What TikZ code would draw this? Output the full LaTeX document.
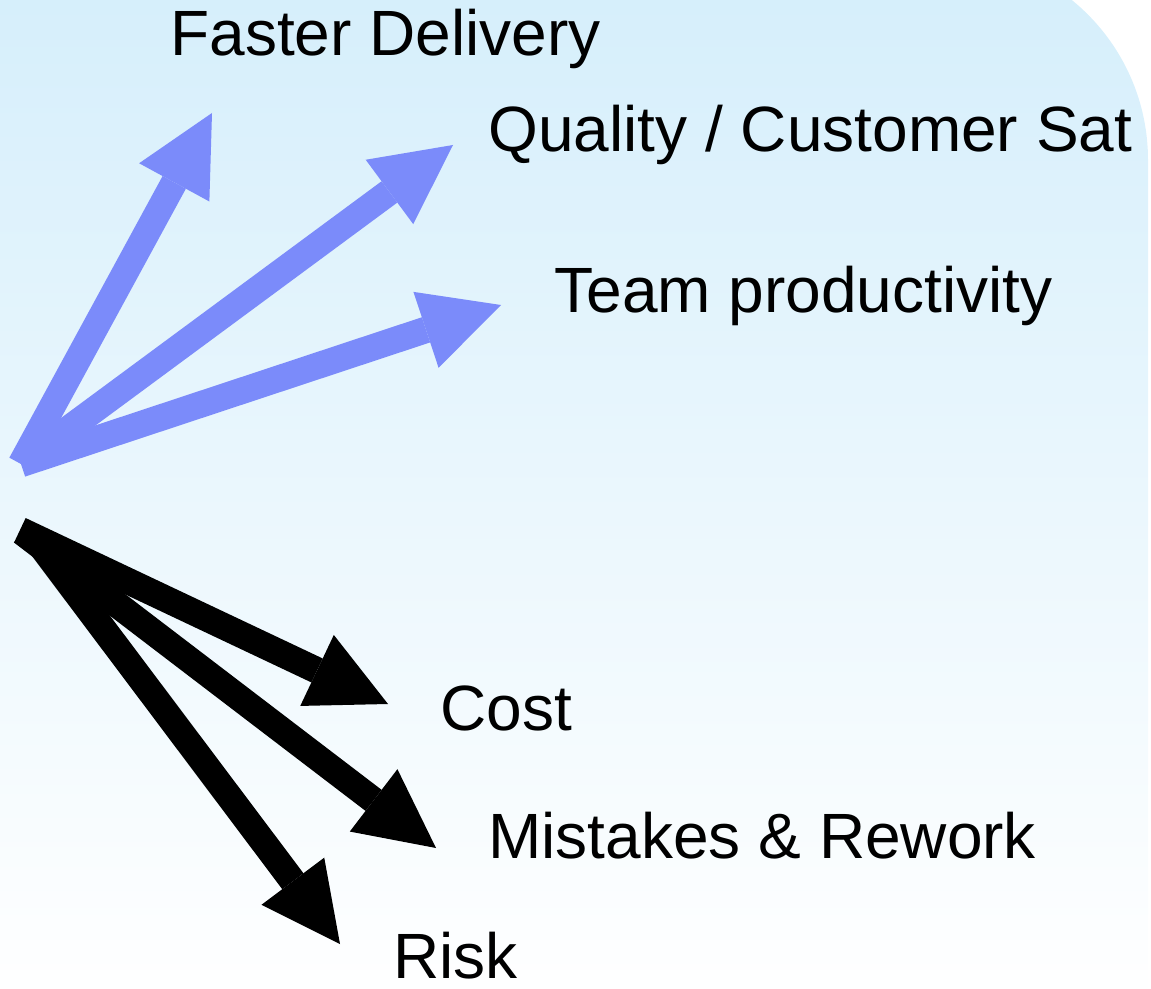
\documentclass[tikz,border=0pt]{standalone}
\usepackage{fontspec}
\setmainfont{Liberation Sans}
\usetikzlibrary{arrows.meta}
\definecolor{bgtop}{RGB}{212,238,251}
\definecolor{arrblue}{RGB}{123,139,250}
\begin{document}
\begin{tikzpicture}[x=0.5pt,y=-0.5pt,
  lbl/.style={inner sep=0pt, anchor=base west, font=\fontsize{32pt}{38pt}\selectfont},
  uparrow/.style={draw=arrblue, line width=13.25pt, -{Triangle[length=39.5pt,width=40pt,line width=0pt]}},
  downarrow/.style={draw=black, line width=13.25pt, -{Triangle[length=39.25pt,width=39.25pt,line width=0pt]}}]
\useasboundingbox (0,0) rectangle (1151,989);
\shade[top color=bgtop, bottom color=white] (-10,1000) -- (-10,-46) -- (942,-46)
  arc[start angle=-90,end angle=0,radius=206] -- (1148,1000) -- cycle;

% labels
\node[lbl] (fd) at (170,56) {Faster Delivery};
\node[lbl] (qc) at (488,152) {Quality / Customer Sat};
\node[lbl] (tp) at (554,313) {Team productivity};
\node[lbl] (co) at (440,730) {Cost};
\node[lbl] (mr) at (488,858) {Mistakes \& Rework};
\node[lbl] (ri) at (393,978) {Risk};

% arrow ends
\coordinate (bsrc) at (21,464);
\coordinate (tfd) at (212,113);
\coordinate (tqc) at (453,145);
\coordinate (ttp) at (501,305);
\coordinate (scost) at (20,530);
\coordinate (tcost) at (388,704);
\coordinate (smis) at (22,532);
\coordinate (tmis) at (436,848);
\coordinate (srisk) at (38,542);
\coordinate (trisk) at (340,944);

\draw[uparrow] (bsrc) -- (tfd);
\draw[uparrow] (bsrc) -- (tqc);
\draw[uparrow] (bsrc) -- (ttp);
\draw[downarrow] (scost) -- (tcost);
\draw[downarrow] (smis) -- (tmis);
\draw[downarrow] (srisk) -- (trisk);
\end{tikzpicture}
\end{document}
